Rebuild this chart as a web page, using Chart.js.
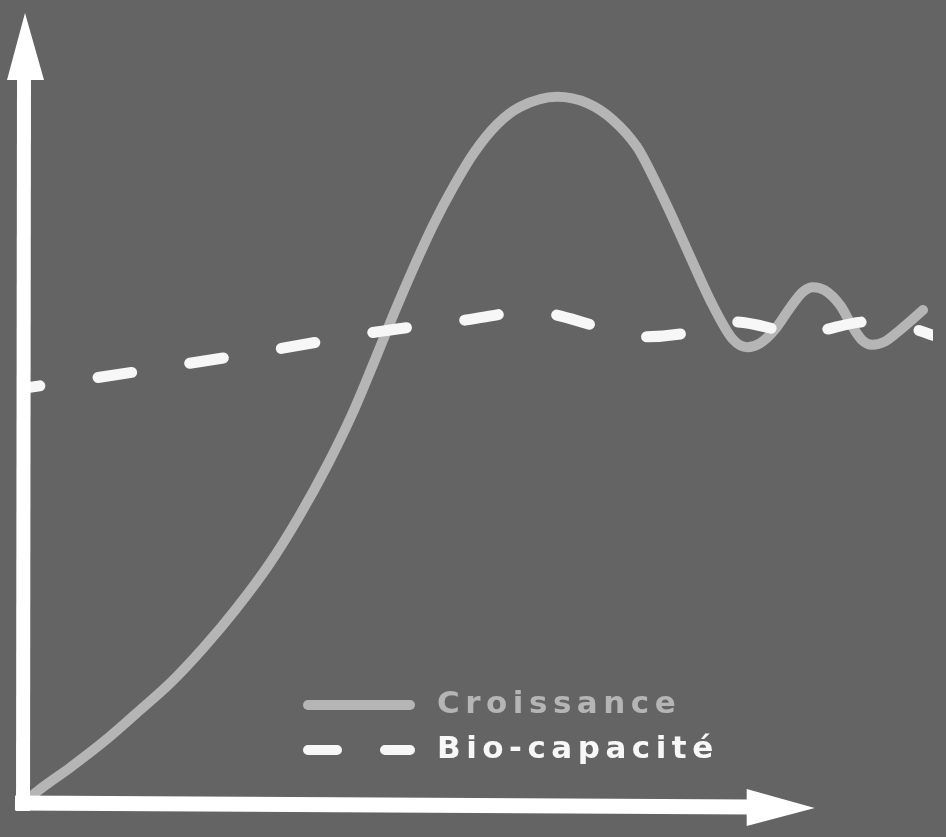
<!DOCTYPE html>
<html lang="fr">
<head>
<meta charset="utf-8">
<title>Croissance et bio-capacité</title>
<script src="https://cdn.jsdelivr.net/npm/chart.js@4.4.1/dist/chart.umd.min.js"></script>
<style>
  html, body { margin: 0; padding: 0; background: #646464; }
  canvas { display: block; }
</style>
</head>
<body>
<canvas id="myChart" width="946" height="837"></canvas>
<script>
// values (arbitrary units, 0..100 on both axes)
let croissanceX = [0.8, 1.5, 5.2, 8.8, 12.5, 16.2, 19.8, 23.5, 27.1, 30.4, 33.5, 36.2, 38.5, 40.7, 42.9, 45.1,
  47.3, 49.5, 52.1, 54.6, 58.7, 62.0, 64.8, 67.5, 69.1, 70.9, 73.3, 75.8, 78.0, 79.6, 81.0, 82.6, 84.3,
  85.7, 86.8, 88.1, 89.8, 91.1, 92.2, 93.3, 94.7, 96.4, 98.9];
let croissanceY = [0.7, 1.4, 4.5, 7.7, 11.4, 15.2, 19.6, 24.7, 30.3, 36.4, 42.9, 49.3, 55.6, 61.8, 67.7, 73.2,
  78.0, 82.2, 85.9, 88.1, 89.4, 88.6, 86.5, 83.0, 79.6, 75.3, 69.2, 63.0, 58.7, 57.7, 58.2, 59.9, 62.7,
  64.7, 65.3, 64.9, 63.0, 60.4, 58.6, 58.0, 58.4, 59.9, 62.4];

let bioX = [0, 7.9, 18.0, 28.2, 38.1, 48.4, 55.7, 58.5, 62.9, 68.1, 73.0, 78.2, 82.9, 85.4, 88.1, 92.7, 98.2, 100];
let bioY = [52.5, 53.8, 55.6, 57.5, 59.5, 61.1, 62.2, 61.8, 60.4, 59.0, 59.5, 60.9, 59.9, 59.1, 59.9, 60.9, 59.9, 59.2];

let seriesLabels = ["Croissance", "Bio-capacité"];
let xAxisEnd = 87; // where the x arrow stops

function toPoints(xs, ys) {
  return xs.map((x, i) => ({ x: x, y: ys[i] }));
}

// white axes with arrow heads
const arrowAxes = {
  id: "arrowAxes",
  afterDatasetsDraw(chart) {
    const ctx = chart.ctx;
    const xs = chart.scales.x, ys = chart.scales.y;
    const ox = xs.getPixelForValue(0);
    const oy = ys.getPixelForValue(0);
    const top = ys.getPixelForValue(100);
    const right = xs.getPixelForValue(xAxisEnd);
    ctx.save();
    ctx.fillStyle = "#ffffff";
    ctx.strokeStyle = "#ffffff";
    ctx.lineCap = "butt";
    // y axis
    ctx.lineWidth = 14;
    ctx.beginPath();
    ctx.moveTo(ox, oy + 8);
    ctx.lineTo(ox + 1, top + 62);
    ctx.stroke();
    ctx.beginPath();
    ctx.moveTo(ox + 2, top);
    ctx.lineTo(ox + 21, top + 67);
    ctx.lineTo(ox - 16, top + 67);
    ctx.closePath();
    ctx.fill();
    // x axis
    ctx.lineWidth = 15;
    ctx.beginPath();
    ctx.moveTo(ox - 8, oy);
    ctx.lineTo(right - 62, oy + 4);
    ctx.stroke();
    ctx.beginPath();
    ctx.moveTo(right, oy + 5);
    ctx.lineTo(right - 68, oy - 14);
    ctx.lineTo(right - 68, oy + 23);
    ctx.closePath();
    ctx.fill();
    ctx.restore();
  }
};

// legend drawn inside the plot, lower right
const innerLegend = {
  id: "innerLegend",
  afterDraw(chart) {
    const ctx = chart.ctx;
    const sets = chart.data.datasets;
    const x0 = 308, x1 = 410, tx = 437;
    const rows = [705, 750];
    ctx.save();
    ctx.font = "bold 31px 'DejaVu Sans'";
    ctx.letterSpacing = "5.5px";
    ctx.textBaseline = "alphabetic";
    sets.forEach((ds, i) => {
      const y = rows[i];
      ctx.strokeStyle = ds.borderColor;
      ctx.lineWidth = 10;
      ctx.lineCap = "round";
      ctx.setLineDash(i === 1 ? [29, 48] : []);
      ctx.beginPath();
      ctx.moveTo(x0, y);
      ctx.lineTo(x1, y);
      ctx.stroke();
      ctx.setLineDash([]);
      ctx.fillStyle = ds.borderColor;
      ctx.fillText(ds.label, tx, y + 8);
    });
    ctx.restore();
  }
};

let myChart = document.getElementById("myChart").getContext("2d");

let growthChart = new Chart(myChart, {
  type: "line",
  data: {
    datasets: [
      {
        label: seriesLabels[0],
        data: toPoints(croissanceX, croissanceY),
        borderColor: "#b5b5b5",
        borderWidth: 10,
        cubicInterpolationMode: "monotone",
        borderCapStyle: "round",
        pointRadius: 0,
        fill: false,
        order: 2,
      },
      {
        label: seriesLabels[1],
        data: toPoints(bioX, bioY),
        borderColor: "#f7f7f7",
        borderWidth: 11,
        borderDash: [34, 58.8],
        borderDashOffset: 17,
        borderCapStyle: "round",
        cubicInterpolationMode: "monotone",
        pointRadius: 0,
        fill: false,
        order: 1,
      },
    ],
  },
  options: {
    responsive: false,
    animation: false,
    layout: { padding: { left: 23, right: 13, top: 13, bottom: 34 } },
    scales: {
      x: { type: "linear", min: 0, max: 100, display: false },
      y: { type: "linear", min: 0, max: 100, display: false },
    },
    plugins: {
      legend: { display: false },
      tooltip: { enabled: false },
    },
  },
  plugins: [arrowAxes, innerLegend],
});
</script>
</body>
</html>
